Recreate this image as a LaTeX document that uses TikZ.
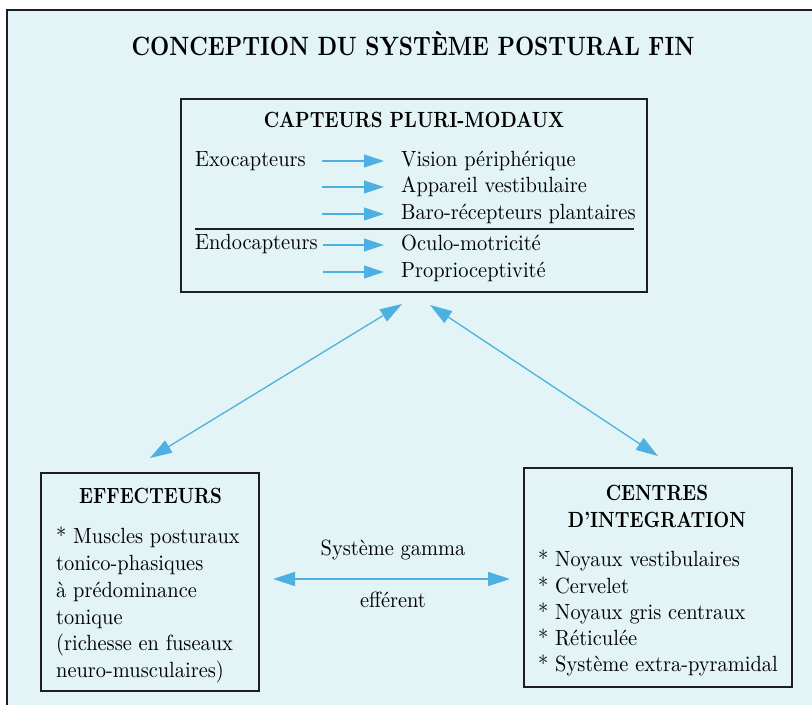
\documentclass[tikz,border=0pt]{standalone}
\usepackage{fontspec}
\setmainfont{lmroman10-regular.otf}[UprightFeatures={FakeStretch=0.928},BoldFont=lmroman10-bold.otf,BoldFeatures={FakeStretch=0.84}]
\usetikzlibrary{arrows.meta}
\definecolor{bgblue}{HTML}{E3F4F6}
\definecolor{arrowblue}{HTML}{4DB0E2}
\definecolor{boxline}{HTML}{1C1C2A}
\begin{document}
\begin{tikzpicture}[x=1pt,y=-1pt,
  txt/.style={inner sep=0pt,font=\rmfamily\fontsize{22}{26}\selectfont,text=black},
  hdr/.style={inner sep=0pt,font=\rmfamily\fontsize{22}{26}\selectfont\bfseries,text=black},
  ttl/.style={inner sep=0pt,font=\rmfamily\fontsize{26.5}{30}\selectfont\bfseries,text=black},
  boxframe/.style={draw=boxline,line width=1.2pt,rectangle,inner sep=0pt},
  smallarrow/.style={draw=arrowblue,line width=1.1pt,-{Triangle[length=20pt,width=13pt]}},
  bigarrow/.style={draw=arrowblue,line width=1.3pt,{Triangle[length=22pt,width=14pt]}-{Triangle[length=22pt,width=14pt]}}
]
\useasboundingbox (0,0) rectangle (812,705);
\fill[white] (0,0) rectangle (812,705);
\fill[bgblue] (7,10) rectangle (812,705);
\draw[boxline,line width=1.5pt] (7,705) -- (7,10) -- (812,10);

% title
\node[ttl,anchor=base] (title) at (413,55) {CONCEPTION DU SYSTÈME POSTURAL FIN};

% top box
\node[boxframe,minimum width=466pt,minimum height=193pt] (capt) at (414,195.5) {};
\node[hdr,anchor=base] (capth) at (414,127) {CAPTEURS PLURI-MODAUX};
\node[txt,anchor=base west] (exo) at (195,166) {Exocapteurs};
\node[txt,anchor=base west] (endo) at (195,249) {Endocapteurs};
\node[txt,anchor=base west] (r1) at (401,166) {Vision périphérique};
\node[txt,anchor=base west] (r2) at (401,192) {Appareil vestibulaire};
\node[txt,anchor=base west] (r3) at (401,219) {Baro-récepteurs plantaires};
\node[txt,anchor=base west] (r4) at (401,250) {Oculo-motricité};
\node[txt,anchor=base west] (r5) at (401,277) {Proprioceptivité};
\coordinate (a1s) at (322,161); \coordinate (a1e) at (384,161);
\coordinate (a2s) at (322,187); \coordinate (a2e) at (384,187);
\coordinate (a3s) at (322,214); \coordinate (a3e) at (384,214);
\coordinate (a4s) at (323,245); \coordinate (a4e) at (384,245);
\coordinate (a5s) at (323,272); \coordinate (a5e) at (384,272);
\draw[smallarrow] (a1s) -- (a1e);
\draw[smallarrow] (a2s) -- (a2e);
\draw[smallarrow] (a3s) -- (a3e);
\draw[smallarrow] (a4s) -- (a4e);
\draw[smallarrow] (a5s) -- (a5e);
\coordinate (divl) at (195,229); \coordinate (divr) at (634,229);
\draw[boxline,line width=1.1pt] (divl) -- (divr);

% bottom left box
\node[boxframe,minimum width=218pt,minimum height=218pt] (eff) at (150,582) {};
\node[hdr,anchor=base] (effh) at (150.5,503) {EFFECTEURS};
\node[txt,anchor=base west] (e1) at (56,543) {* Muscles posturaux};
\node[txt,anchor=base west] (e2) at (56,570) {tonico-phasiques};
\node[txt,anchor=base west] (e3) at (56,597) {à prédominance};
\node[txt,anchor=base west] (e4) at (56,624) {tonique};
\node[txt,anchor=base west] (e5) at (56,650) {(richesse en fuseaux};
\node[txt,anchor=base west] (e6) at (56,677) {neuro-musculaires)};

% bottom right box
\node[boxframe,minimum width=268pt,minimum height=219pt] (cent) at (658,577.5) {};
\node[hdr,anchor=base] (centh1) at (657,500) {CENTRES};
\node[hdr,anchor=base] (centh2) at (657,527) {D’INTEGRATION};
\node[txt,anchor=base west] (c1) at (538,566) {* Noyaux vestibulaires};
\node[txt,anchor=base west] (c2) at (538,593) {* Cervelet};
\node[txt,anchor=base west] (c3) at (538,619) {* Noyaux gris centraux};
\node[txt,anchor=base west] (c4) at (538,645) {* Réticulée};
\node[txt,anchor=base west] (c5) at (538,671) {* Système extra-pyramidal};

% connectors
\coordinate (dl1) at (150,458); \coordinate (dl2) at (402,304);
\coordinate (dr1) at (430,305); \coordinate (dr2) at (658,456);
\coordinate (hl) at (273,579); \coordinate (hr) at (510,579);
\draw[bigarrow] (dl1) -- (dl2);
\draw[bigarrow] (dr1) -- (dr2);
\draw[bigarrow] (hl) -- (hr);
\node[txt,anchor=base] (gam1) at (393,555) {Système gamma};
\node[txt,anchor=base] (gam2) at (393,607) {efférent};
\end{tikzpicture}
\end{document}
